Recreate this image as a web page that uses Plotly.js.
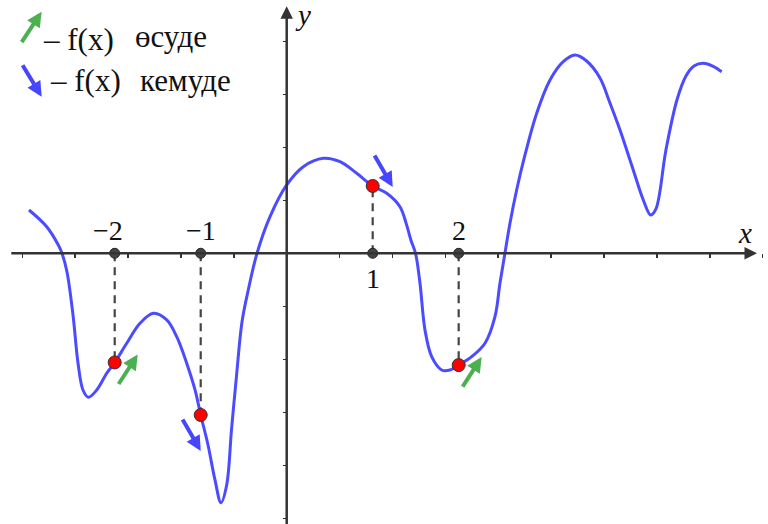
<!DOCTYPE html>
<html>
<head>
<meta charset="utf-8">
<script src="https://cdn.plot.ly/plotly-3.0.1.min.js"></script>
<style>html,body{margin:0;padding:0;background:#fff;}#chart{width:768px;height:524px;}</style>
</head>
<body>
<div id="chart"></div>
<script>
// Curve f(x)
const curveX = [-2.997, -2.791, -2.656, -2.613, -2.555, -2.485, -2.427, -2.369, -2.307, -2.209, -2.093, -2.000, -1.860, -1.706, -1.551, -1.395, -1.279, -1.163, -1.066, -1.000, -0.915, -0.834, -0.764, -0.698, -0.642, -0.581, -0.520, -0.447, -0.345, -0.194, 0.000, 0.193, 0.426, 0.620, 0.814, 1.000, 1.163, 1.317, 1.390, 1.444, 1.498, 1.550, 1.608, 1.686, 1.802, 1.899, 2.000, 2.151, 2.306, 2.422, 2.480, 2.538, 2.597, 2.674, 2.771, 2.907, 3.062, 3.216, 3.352, 3.488, 3.643, 3.759, 3.876, 4.030, 4.147, 4.233, 4.294, 4.410, 4.538, 4.643, 4.736, 4.844, 4.960, 5.058];
const curveY = [0.817, 0.502, 0.157, 0.000, -0.353, -1.164, -2.070, -2.579, -2.717, -2.579, -2.264, -2.060, -1.698, -1.321, -1.132, -1.258, -1.574, -2.075, -2.579, -3.051, -3.617, -4.277, -4.706, -4.372, -3.334, -2.264, -1.296, -0.692, 0.000, 0.691, 1.289, 1.634, 1.792, 1.728, 1.509, 1.270, 1.132, 0.879, 0.560, 0.250, 0.000, -0.566, -1.447, -1.951, -2.202, -2.202, -2.110, -1.951, -1.698, -1.196, -0.566, 0.000, 0.572, 1.194, 1.855, 2.642, 3.270, 3.615, 3.742, 3.628, 3.308, 2.836, 2.326, 1.572, 1.006, 0.723, 0.836, 1.949, 2.892, 3.345, 3.534, 3.585, 3.528, 3.426];

// Marked points
const pointX = [-2, -1, 1, 2];
const pointY = [-2.060, -3.051, 1.270, -2.110];
const pointLabels = ['\u22122', '\u22121', '1', '2'];
const pointTrend = ['up', 'down', 'down', 'up']; // өсуде / кемуде

const legendTexts = ['\u2013 f(x)', '\u04e9\u0441\u0443\u0434\u0435', '\u2013 f(x)', '\u043a\u0435\u043c\u0443\u0434\u0435'];

const W = 768, H = 524;
const xr = [-3.334, 5.597], yr = [-5.108, 4.779];
const GREEN = '#4caf50', BLUE = '#4646ff', CURVE = '#4b4bff', AX = '#333333';
const SERIF = 'Liberation Serif, Times New Roman, serif';

const traces = [];
// dashed drop lines
pointX.forEach((px, i) => {
  traces.push({x: [px, px], y: [0, pointY[i]], mode: 'lines', type: 'scatter',
    line: {color: '#444', width: 2.2, dash: '8px,6px'}, hoverinfo: 'skip', showlegend: false});
});
traces.push({x: curveX, y: curveY, mode: 'lines', type: 'scatter',
  line: {color: CURVE, width: 3, shape: 'spline', smoothing: 1}, hoverinfo: 'skip', showlegend: false});
traces.push({x: pointX, y: pointX.map(() => 0), mode: 'markers', type: 'scatter',
  marker: {size: 10, color: '#444', line: {color: '#222', width: 1}}, showlegend: false});
traces.push({x: pointX, y: pointY, mode: 'markers', type: 'scatter',
  marker: {size: 13, color: '#ff0000', line: {color: '#333', width: 1}}, showlegend: false});

const ann = [];
// axes with arrows
ann.push({xref: 'x', yref: 'y', axref: 'x', ayref: 'y', x: 5.469, y: 0, ax: -3.22, ay: 0,
  showarrow: true, arrowhead: 2, arrowsize: 1.0, arrowwidth: 2.5, arrowcolor: AX, text: '', standoff: 0});
ann.push({xref: 'x', yref: 'y', axref: 'x', ayref: 'y', x: 0, y: 4.66, ax: 0, ay: -5.3,
  showarrow: true, arrowhead: 2, arrowsize: 1.0, arrowwidth: 2.5, arrowcolor: AX, text: '', standoff: 0});
ann.push({xref: 'paper', yref: 'paper', x: 744.5 / W, y: 1 - 233 / H, text: 'x', showarrow: false,
  font: {family: SERIF, size: 29, color: '#111', style: 'italic'}, xanchor: 'center', yanchor: 'middle'});
ann.push({xref: 'paper', yref: 'paper', x: 303 / W, y: 1 - 15 / H, text: 'y', showarrow: false,
  font: {family: SERIF, size: 29, color: '#111', style: 'italic'}, xanchor: 'center', yanchor: 'middle'});

// tick labels at points
pointX.forEach((px, i) => {
  const below = pointY[i] > 0;
  ann.push({xref: 'x', yref: 'y', x: px, y: 0, text: pointLabels[i], showarrow: false,
    font: {family: SERIF, size: 28, color: '#111'}, xanchor: 'center', yanchor: 'middle',
    xshift: (i === 0 ? -7 : 0), yshift: below ? -25 : 23});
});

// direction arrows beside points
const arrowSpec = {
  up: {dx: 23, dy: 8, ax: -20, ay: 31, color: GREEN},
  down: {dx: 20, dy: -35, ax: -19, ay: -33, color: BLUE}
};
pointX.forEach((px, i) => {
  let s = Object.assign({}, arrowSpec[pointTrend[i]]);
  if (pointTrend[i] === 'down' && pointY[i] > 0) { s.dy = -1; }
  if (pointTrend[i] === 'down' && pointY[i] < 0) { s.dx = 0; s.dy = -36; }
  ann.push({xref: 'x', yref: 'y', x: px, y: pointY[i], xshift: s.dx, yshift: s.dy, ax: s.ax, ay: s.ay,
    showarrow: true, arrowhead: 2, arrowsize: 0.75, arrowwidth: 4, arrowcolor: s.color, text: '', standoff: 0});
});

// legend
ann.push({xref: 'paper', yref: 'paper', x: 41.7 / W, y: 1 - 11.7 / H, ax: -21, ay: 32,
  showarrow: true, arrowhead: 2, arrowsize: 0.75, arrowwidth: 4, arrowcolor: GREEN, text: '', standoff: 0});
ann.push({xref: 'paper', yref: 'paper', x: 41.7 / W, y: 1 - 96.7 / H, ax: -20, ay: -33,
  showarrow: true, arrowhead: 2, arrowsize: 0.75, arrowwidth: 4, arrowcolor: BLUE, text: '', standoff: 0});
const legendPos = [[41, 39], [133, 37], [48, 80], [138, 80]];
legendTexts.forEach((t, i) => {
  ann.push({xref: 'paper', yref: 'paper', x: legendPos[i][0] / W, y: 1 - legendPos[i][1] / H, text: t,
    showarrow: false, xanchor: 'left', yanchor: 'middle', font: {family: SERIF, size: 31, color: '#111'}});
});

const layout = {
  width: W, height: H, margin: {l: 0, r: 0, t: 0, b: 0},
  paper_bgcolor: '#fff', plot_bgcolor: '#fff', showlegend: false,
  xaxis: {range: xr, anchor: 'free', position: -yr[0] / (yr[1] - yr[0]), showgrid: false, zeroline: false,
    showline: false, ticks: 'outside', ticklen: 4, tickwidth: 1.5, tickcolor: AX, tick0: 0, dtick: 0.615,
    showticklabels: false, fixedrange: true},
  yaxis: {range: yr, anchor: 'free', position: -xr[0] / (xr[1] - xr[0]), showgrid: false, zeroline: false,
    showline: false, ticks: 'outside', ticklen: 4, tickwidth: 1.5, tickcolor: AX, tick0: 0, dtick: 1,
    showticklabels: false, fixedrange: true},
  annotations: ann
};
Plotly.newPlot('chart', traces, layout, {staticPlot: true, displayModeBar: false});
</script>
</body>
</html>
